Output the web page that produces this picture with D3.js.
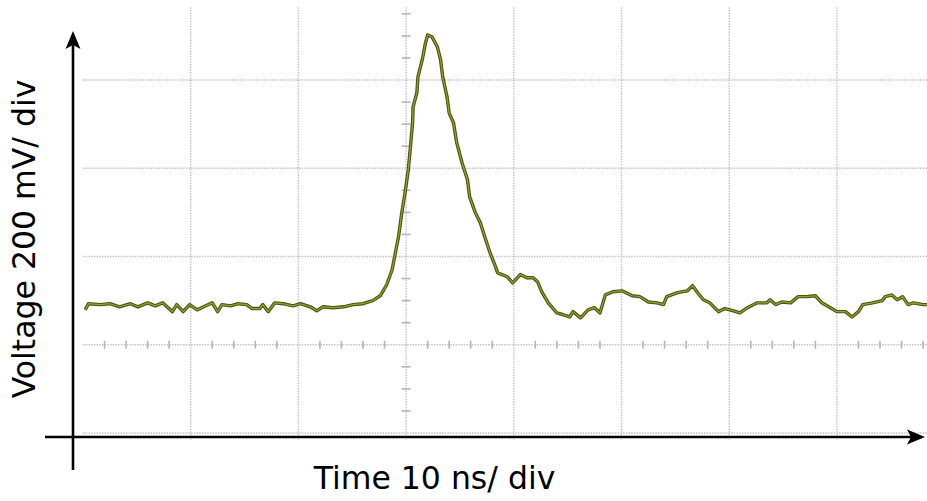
<!DOCTYPE html>
<html>
<head>
<meta charset="utf-8">
<script src="https://cdn.jsdelivr.net/npm/d3@7"></script>
<style>
html,body{margin:0;padding:0;background:#fff;}
svg{display:block;}
</style>
</head>
<body>
<svg id="chart" width="927" height="501"></svg>
<script>
// ---- data (time in ns, voltage in mV) ----
const timeNs = [-29.8,-29.5,-28.4,-27.5,-26.6,-25.6,-24.9,-24.0,-23.3,-22.6,-21.7,-21.3,-20.7,-20.1,-19.4,-18.8,-18.0,-17.5,-17.1,-16.3,-15.6,-14.8,-14.3,-13.6,-13.3,-12.8,-12.2,-11.4,-10.5,-9.8,-8.9,-8.3,-7.7,-6.8,-5.8,-4.9,-4.0,-3.1,
  -2.4,-1.8,-1.3,-1.0,-0.7,-0.4,-0.1,0.2,0.4,0.6,0.65,1.0,1.1,1.5,1.8,2.0,2.4,2.9,3.2,3.4,3.8,4.0,4.4,4.7,5.2,5.7,5.9,6.4,6.9,7.3,7.8,8.3,8.5,9.4,9.9,10.6,11.2,11.8,12.2,12.6,13.2,14.0,14.6,15.2,15.5,16.2,16.9,17.5,18.0,18.5,19.2,20.1,21.0,21.7,22.5,23.3,23.9,24.2,25.2,26.1,26.6,27.0,27.6,28.2,29.0,29.6,30.4,31.0,31.7,32.6,33.5,33.8,34.3,34.9,35.7,36.4,37.2,38.0,38.6,39.4,40.0,40.8,41.4,42.0,42.4,43.3,44.2,44.5,45.1,45.6,46.1,46.6,47.1,48.0,48.6];
const voltageMv = [79,93,91,93,86,93,86,95,88,95,75,91,75,91,79,86,95,75,91,88,93,91,82,82,91,75,95,93,88,93,86,77,86,84,86,91,93,100,
  111,136,170,208,245,299,344,396,448,503,539,571,607,646,684,702,698,675,646,607,562,525,503,458,412,374,335,301,276,245,208,177,163,154,140,159,152,152,143,120,95,72,68,63,75,61,79,84,72,113,120,122,111,109,97,95,91,109,118,122,134,120,102,95,75,82,77,72,84,95,95,102,91,97,95,109,109,111,95,84,75,75,63,75,91,95,100,109,113,102,109,91,95,91,91];

// grid definitions
const timeGrid = [-20,-10,0,10,20,30,40];       // ns, 10 ns/div
const voltGrid = [-200,0,200,400,600];          // mV, 200 mV/div
const timeMinor = d3.range(-28, 50, 2);          // ns
const voltMinor = d3.range(-150, 751, 50);       // mV
const xLabel = "Time 10 ns/ div";
const yLabel = "Voltage 200 mV/ div";

const svg = d3.select("#chart");
const W = 927, H = 501;

const x = d3.scaleLinear().domain([-30, 50]).range([83, 83 + 8 * 107.7]);
const y = d3.scaleLinear().domain([-200, 600]).range([433, 80]);

const tLeft = -30, vTop = 765, vBottom = -216;

const grid = svg.append("g").attr("class", "grid");
grid.selectAll("line.v").data(timeGrid).join("line")
  .attr("x1", d => x(d)).attr("x2", d => x(d))
  .attr("y1", y(vTop)).attr("y2", y(vBottom))
  .attr("stroke", "#c4c4c4").attr("stroke-width", 1.4).attr("stroke-dasharray", "1.5 1.2");
grid.selectAll("line.h").data(voltGrid).join("line")
  .attr("x1", x(tLeft)).attr("x2", W)
  .attr("y1", d => y(d)).attr("y2", d => y(d))
  .attr("stroke", "#c4c4c4").attr("stroke-width", 1.4).attr("stroke-dasharray", "1.5 1.2");

// minor ticks on centre axes
grid.selectAll("line.tm").data(timeMinor.filter(d => d % 10 !== 0)).join("line")
  .attr("x1", d => x(d)).attr("x2", d => x(d))
  .attr("y1", y(0) - 4).attr("y2", y(0) + 4)
  .attr("stroke", "#b5b5b5").attr("stroke-width", 1.6);
grid.selectAll("line.vm").data(voltMinor.filter(d => d % 200 !== 0)).join("line")
  .attr("x1", x(0) - 4.5).attr("x2", x(0) + 4.5)
  .attr("y1", d => y(d)).attr("y2", d => y(d))
  .attr("stroke", "#b5b5b5").attr("stroke-width", 1.6);

// trace
const pts = timeNs.map((t, i) => [t, voltageMv[i]]);
const line = d3.line().x(d => x(d[0])).y(d => y(d[1]));
svg.append("path").datum(pts).attr("d", line)
  .attr("fill", "none").attr("stroke", "#4b5213").attr("stroke-width", 3.4)
  .attr("stroke-linejoin", "round");
svg.append("path").datum(pts).attr("d", line)
  .attr("fill", "none").attr("stroke", "#98a234").attr("stroke-width", 1.2)
  .attr("stroke-linejoin", "round");

// axes with arrows
const axY = 437, axX = 73;
svg.append("line").attr("x1", 45).attr("x2", 912).attr("y1", axY).attr("y2", axY)
  .attr("stroke", "#000").attr("stroke-width", 2.6);
svg.append("path").attr("d", `M925,${axY} L907,${axY-7.5} L911,${axY} L907,${axY+7.5} Z`).attr("fill", "#000");
svg.append("line").attr("x1", axX).attr("x2", axX).attr("y1", 470).attr("y2", 44)
  .attr("stroke", "#000").attr("stroke-width", 2.6);
svg.append("path").attr("d", `M${axX},31 L${axX-7.5},49 L${axX},45 L${axX+7.5},49 Z`).attr("fill", "#000");

// labels
svg.append("text").attr("x", 434.5).attr("y", 489)
  .attr("text-anchor", "middle")
  .attr("font-family", "DejaVu Sans, Verdana, sans-serif").attr("font-size", 31.5)
  .attr("fill", "#000").text(xLabel);
svg.append("text")
  .attr("transform", "translate(35,239) rotate(-90)")
  .attr("text-anchor", "middle")
  .attr("font-family", "DejaVu Sans, Verdana, sans-serif").attr("font-size", 31.5)
  .attr("fill", "#000").text(yLabel);
</script>
</body>
</html>
